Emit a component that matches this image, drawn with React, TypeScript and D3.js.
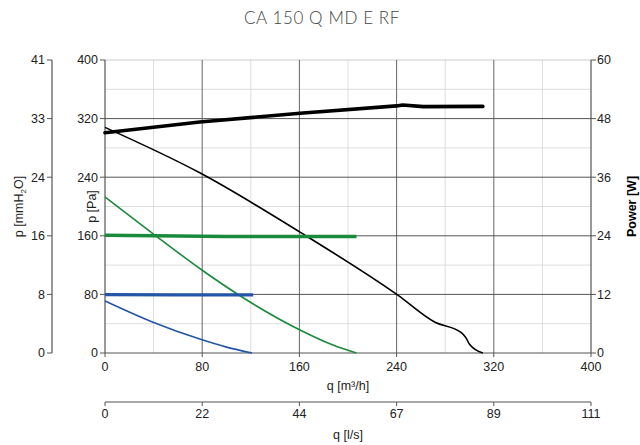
import React from "react";
import * as d3 from "d3";

const title = "CA 150 Q MD E RF";
const qTicks = [0, 80, 160, 240, 320, 400];
const qMinor = [40, 120, 200, 280, 360];
const pTicks = [0, 80, 160, 240, 320, 400];
const pMinor = [40, 120, 200, 280, 360];
const wTicks = [0, 12, 24, 36, 48, 60];

// pressure curves: [q m3/h, p Pa]
const blackPressure: [number, number][] = [
  [0, 308], [78, 246], [160.5, 165], [241, 79], [271.6, 42], [293, 28], [297, 21], [300, 12], [311, 0],
];
const greenPressure: [number, number][] = [
  [0, 213], [41, 161], [80, 113], [117, 72], [160.5, 31.4], [187.6, 10.9], [207, 0],
];
const bluePressure: [number, number][] = [
  [0, 71], [39.5, 42], [78, 19], [100, 8], [121, 0],
];
// power curves: [q m3/h, W]
const blackPower: [number, number][] = [
  [0, 45.1], [78, 47.3], [160.5, 49.1], [240, 50.6], [245, 50.8], [262, 50.45], [311, 50.5],
];
const greenPower: [number, number][] = [
  [0, 24.1], [100, 23.85], [207, 23.85],
];
const bluePower: [number, number][] = [
  [0, 11.95], [60, 11.9], [122, 11.9],
];

const X0 = 105, X1 = 591, Y0 = 353, Y1 = 60;
const font = "'Liberation Sans', Arial, sans-serif";
const fs = 12.5;

export default function App() {
  const x = d3.scaleLinear().domain([0, 400]).range([X0, X1]);
  const y = d3.scaleLinear().domain([0, 400]).range([Y0, Y1]);
  const yW = d3.scaleLinear().domain([0, 60]).range([Y0, Y1]);
  const xL = d3.scaleLinear().domain([0, 400 / 3.6]).range([X0, X1]);
  const lineP = d3.line<[number, number]>().x(d => x(d[0])).y(d => y(d[1])).curve(d3.curveMonotoneX);
  const lineW = d3.line<[number, number]>().x(d => x(d[0])).y(d => yW(d[1]));
  const outerX = 52;
  const lsY = 402;
  const axisCol = "#555";
  const black = "#000", green = "#1a8a3c", blue = "#2356a8";
  return (
    <svg width={640} height={445} style={{ position: "absolute", left: 0, top: 0 }} fontFamily={font}>
      <rect width={640} height={445} fill="#fff" />
      <text x={322} y={24} textAnchor="middle" fontFamily="Lato, 'Open Sans', sans-serif" fontWeight={300} fontSize={17} fill="#444" letterSpacing={0.6}>{title}</text>
      {/* minor grid */}
      {qMinor.map(v => <line key={"qm" + v} x1={x(v)} x2={x(v)} y1={Y1} y2={Y0} stroke="#ddd" strokeWidth={1} />)}
      {pMinor.map(v => <line key={"pm" + v} x1={X0} x2={X1} y1={y(v)} y2={y(v)} stroke="#ddd" strokeWidth={1} />)}
      <line x1={X0} x2={X1} y1={Y1} y2={Y1} stroke="#ccc" />
      {/* major grid */}
      {qTicks.slice(1, -1).map(v => <line key={"qM" + v} x1={x(v)} x2={x(v)} y1={Y1} y2={Y0} stroke="#666" strokeWidth={1} />)}
      {pTicks.slice(1, -1).map(v => <line key={"pM" + v} x1={X0} x2={X1} y1={y(v)} y2={y(v)} stroke="#555" strokeWidth={1} />)}
      {/* axes */}
      <line x1={X0} x2={X0} y1={Y1} y2={Y0} stroke={axisCol} strokeWidth={1.2} />
      <line x1={X1} x2={X1} y1={Y1} y2={Y0} stroke={axisCol} strokeWidth={1.2} />
      <line x1={X0} x2={X1} y1={Y0} y2={Y0} stroke={axisCol} strokeWidth={1.2} />
      <line x1={outerX} x2={outerX} y1={Y1} y2={Y0} stroke={axisCol} strokeWidth={1.2} />
      <line x1={X0} x2={X1} y1={lsY} y2={lsY} stroke={axisCol} strokeWidth={1.2} />
      {pTicks.map(v => (
        <g key={"pt" + v}>
          <line x1={X0 - 5} x2={X0} y1={y(v)} y2={y(v)} stroke={axisCol} />
          <text x={X0 - 7} y={y(v)} dy="0.35em" textAnchor="end" fontSize={fs} fill="#222">{v}</text>
          <line x1={outerX - 5} x2={outerX} y1={y(v)} y2={y(v)} stroke={axisCol} />
          <text x={outerX - 7} y={y(v)} dy="0.35em" textAnchor="end" fontSize={fs} fill="#222">{Math.round(v / 9.80665)}</text>
        </g>
      ))}
      {wTicks.map(v => (
        <g key={"wt" + v}>
          <line x1={X1} x2={X1 + 5} y1={yW(v)} y2={yW(v)} stroke={axisCol} />
          <text x={X1 + 6} y={yW(v)} dy="0.35em" textAnchor="start" fontSize={fs} fill="#222">{v}</text>
        </g>
      ))}
      {qTicks.map(v => (
        <g key={"qt" + v}>
          <line x1={x(v)} x2={x(v)} y1={Y0} y2={Y0 + 4} stroke={axisCol} />
          <text x={x(v)} y={Y0 + 14} dy="0.35em" textAnchor="middle" fontSize={fs} fill="#222">{v}</text>
          <line x1={xL(v / 3.6)} x2={xL(v / 3.6)} y1={lsY} y2={lsY + 4} stroke={axisCol} />
          <text x={xL(v / 3.6)} y={lsY + 12} dy="0.35em" textAnchor="middle" fontSize={fs} fill="#222">{Math.round(v / 3.6)}</text>
        </g>
      ))}
      <text x={(X0 + X1) / 2} y={390} textAnchor="middle" fontSize={fs} fill="#222">q [m³/h]</text>
      <text x={(X0 + X1) / 2} y={439} textAnchor="middle" fontSize={fs} fill="#222">q [l/s]</text>
      <text transform={`translate(96,${(Y0 + Y1) / 2}) rotate(-90)`} textAnchor="middle" fontSize={fs} fill="#222">p [Pa]</text>
      <text transform={`translate(23,${(Y0 + Y1) / 2}) rotate(-90)`} textAnchor="middle" fontSize={fs} fill="#222">
        p [mmH<tspan fontSize={8} dy={3}>2</tspan><tspan dy={-3}>O]</tspan>
      </text>
      <text transform={`translate(636,${(Y0 + Y1) / 2}) rotate(-90)`} textAnchor="middle" fontSize={fs} fontWeight="bold" fill="#000">Power [W]</text>
      {/* curves */}
      <path d={lineP(blackPressure) || ""} fill="none" stroke={black} strokeWidth={1.6} strokeLinejoin="round" />
      <path d={lineP(greenPressure) || ""} fill="none" stroke={green} strokeWidth={1.6} strokeLinejoin="round" />
      <path d={lineP(bluePressure) || ""} fill="none" stroke={blue} strokeWidth={1.6} strokeLinejoin="round" />
      <path d={lineW(blackPower) || ""} fill="none" stroke={black} strokeWidth={3.6} strokeLinecap="round" strokeLinejoin="round" />
      <path d={lineW(greenPower) || ""} fill="none" stroke={green} strokeWidth={3.4} />
      <path d={lineW(bluePower) || ""} fill="none" stroke={blue} strokeWidth={3.4} />
    </svg>
  );
}
